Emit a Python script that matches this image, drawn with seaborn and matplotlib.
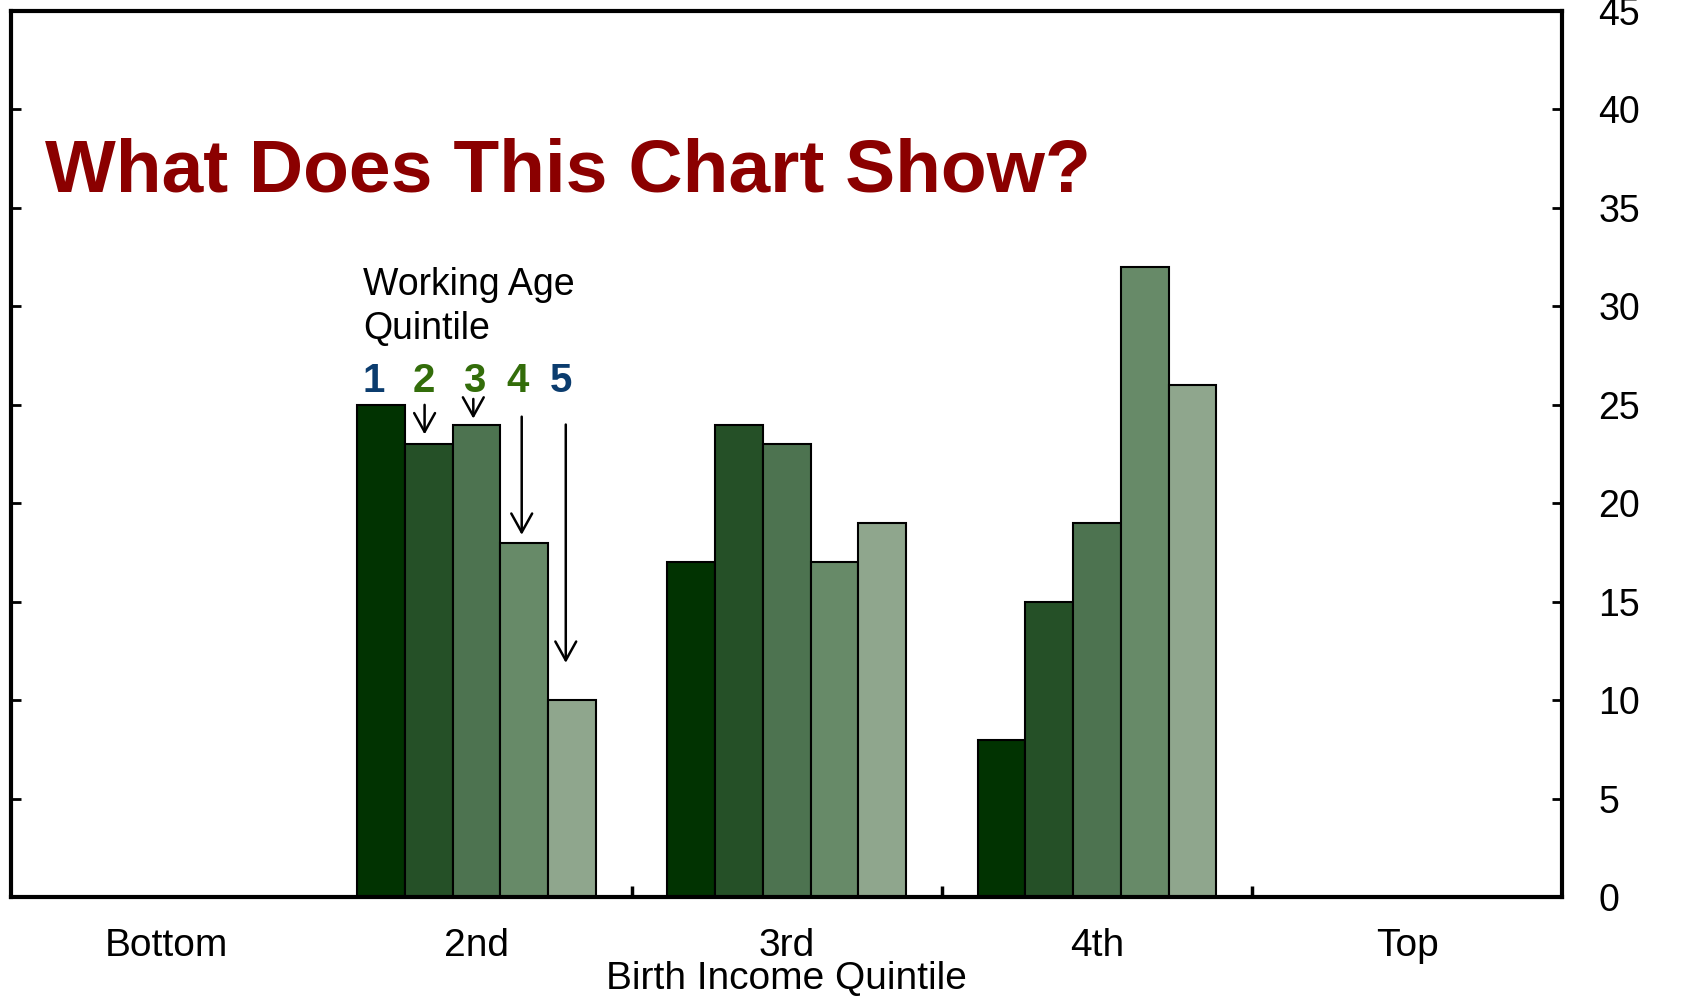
import matplotlib
matplotlib.use("Agg")
import matplotlib.pyplot as plt
import seaborn as sns
import pandas as pd

# ---- data ----
birth_quintiles = ["Bottom", "2nd", "3rd", "4th", "Top"]
working_quintiles = ["1", "2", "3", "4", "5"]
q1 = [0, 25, 17, 8, 0]
q2 = [0, 23, 24, 15, 0]
q3 = [0, 24, 23, 19, 0]
q4 = [0, 18, 17, 32, 0]
q5 = [0, 10, 19, 26, 0]
y_ticks = [0, 5, 10, 15, 20, 25, 30, 35, 40, 45]

series = {"1": q1, "2": q2, "3": q3, "4": q4, "5": q5}
rows = []
for w, vals in series.items():
    for b, v in zip(birth_quintiles, vals):
        rows.append({"birth": b, "working": w, "value": v})
df = pd.DataFrame(rows)

bar_colors = ["#013301", "#255027", "#4d7350", "#678a68", "#8fa68d"]
num_colors = ["#0b3c6e", "#336d0a", "#336d0a", "#336d0a", "#0b3c6e"]

sns.set_theme(style="white")
plt.rcParams["font.family"] = ["Liberation Sans", "DejaVu Sans"]

fig = plt.figure(figsize=(16.9, 9.98), dpi=100)
ax = fig.add_axes([0.0065, 0.101, 0.918, 0.888])

sns.barplot(data=df, x="birth", y="value", hue="working",
            order=birth_quintiles, hue_order=working_quintiles,
            palette=bar_colors, width=0.77, gap=0, edgecolor="black",
            linewidth=1.5, legend=False, ax=ax, saturation=1)

ax.set_xlim(-0.5, 4.5)
ax.set_ylim(0, 45)
ax.set_yticks(y_ticks)
ax.yaxis.tick_right()
ax.tick_params(axis="y", which="both", direction="in", left=True, right=True,
               labelleft=False, labelright=True, length=7, width=2,
               labelsize=27, pad=26, labelcolor="black", color="black")
ax.set_xticks([0, 1, 2, 3, 4])
ax.set_xticklabels(birth_quintiles)
ax.tick_params(axis="x", which="major", length=0, labelsize=28, pad=22,
               labelcolor="black")
ax.set_xticks([1.5, 2.5, 3.5], minor=True)
ax.tick_params(axis="x", which="minor", direction="in", length=8, width=2.5,
               bottom=True, color="black")
ax.set_xlabel("Birth Income Quintile", fontsize=28, labelpad=-2,
              color="black")
ax.set_ylabel("")
for s in ax.spines.values():
    s.set_visible(True)
    s.set_color("black")
    s.set_linewidth(3)

# title
ax.text(-0.389, 36.8, "What Does This Chart Show?", fontsize=54,
        fontweight="bold", color="#8b0000", va="center", ha="left")

# annotation
ax.text(0.635, 32.0, "Working Age\nQuintile", fontsize=27, va="top",
        ha="left", linespacing=1.3, color="black")
num_x = [0.670, 0.830, 0.993, 1.132, 1.271]
for lab, xx, c in zip(working_quintiles, num_x, num_colors):
    ax.text(xx, 26.2, lab, fontsize=29, fontweight="bold", color=c,
            ha="center", va="center")

arrows = [(0.833, 25.0, 23.5), (0.990, 25.3, 24.3),
          (1.146, 24.4, 18.4), (1.288, 24.0, 11.9)]
for xx, y0, y1 in arrows:
    ax.annotate("", xy=(xx, y1), xytext=(xx, y0),
                arrowprops=dict(arrowstyle="->,head_length=0.45,head_width=0.25",
                                color="black", lw=1.8,
                                mutation_scale=30, shrinkA=0, shrinkB=0))

fig.savefig("out.png", dpi=100)
